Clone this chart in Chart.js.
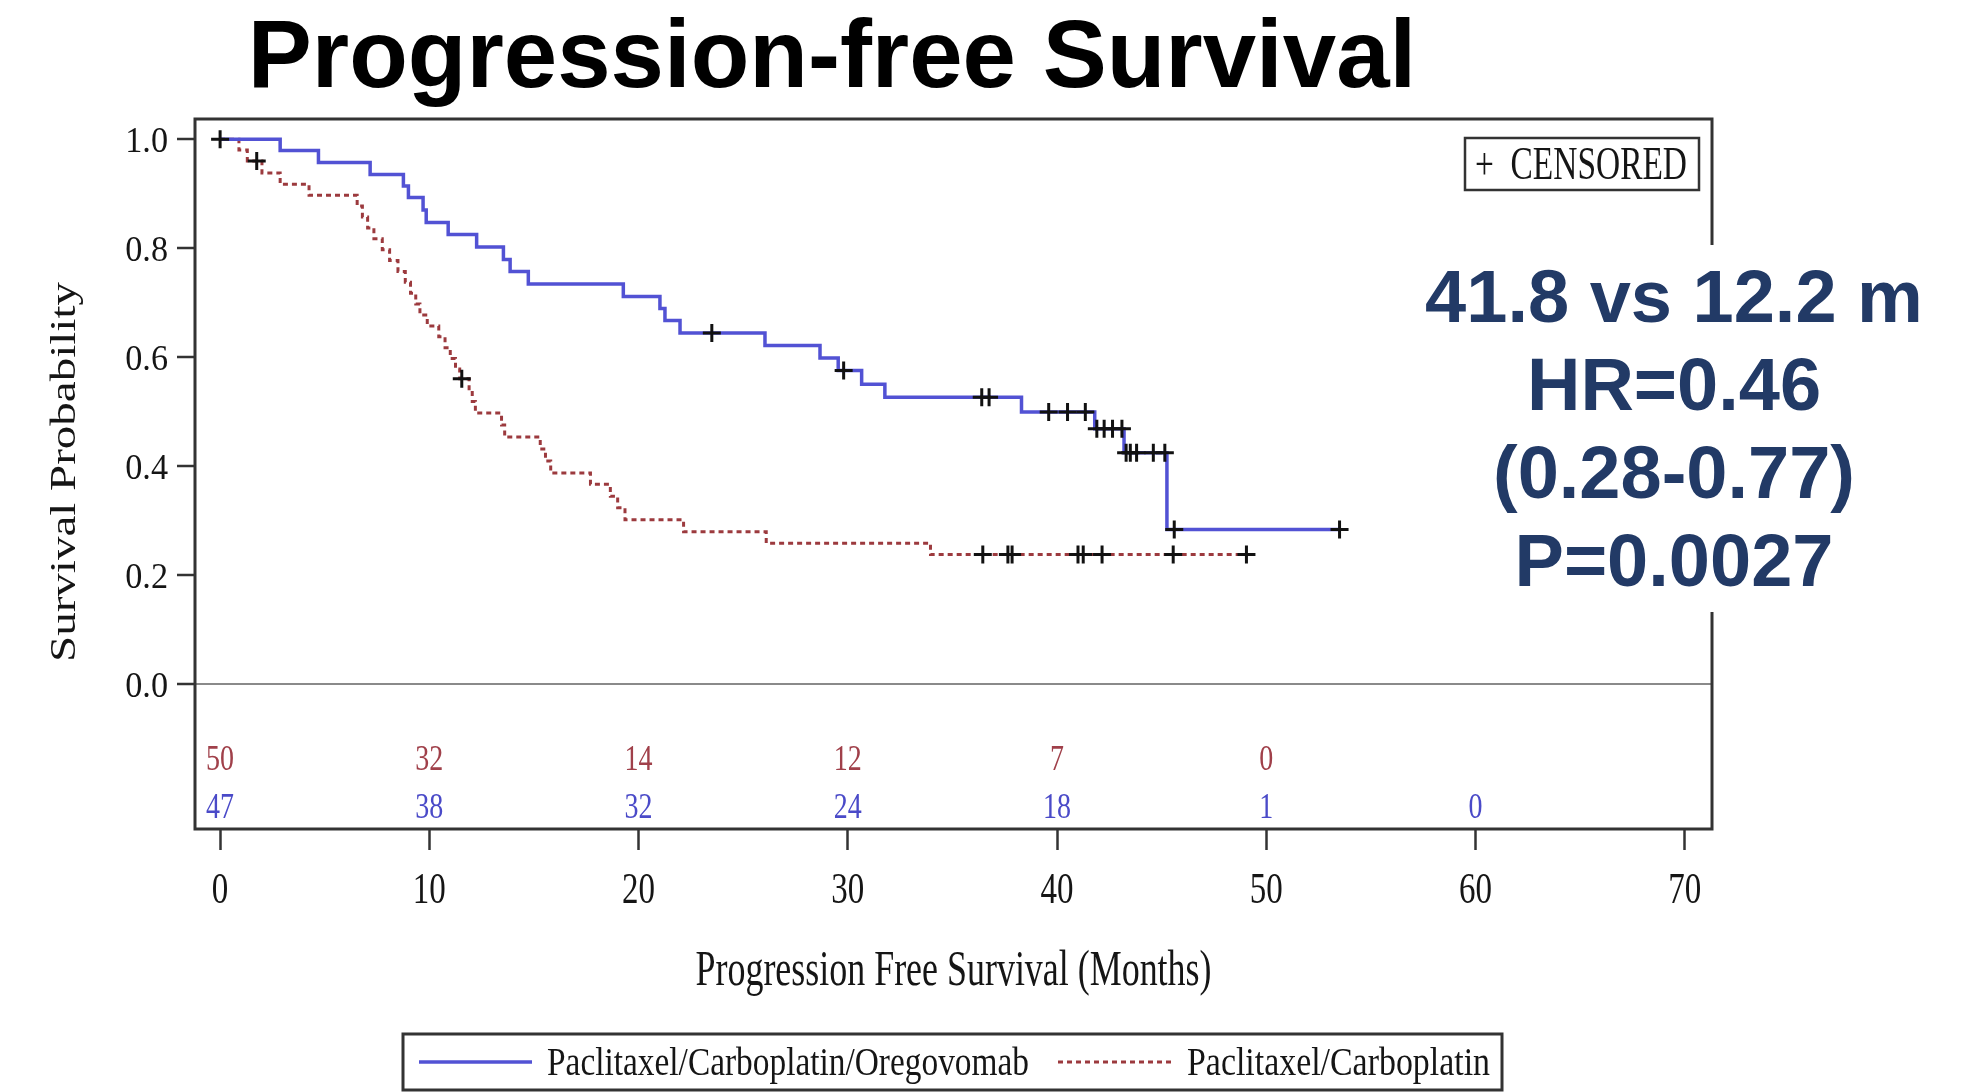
<!DOCTYPE html>
<html lang="en">
<head>
<meta charset="UTF-8">
<title>Progression-free Survival</title>
<script src="https://cdn.jsdelivr.net/npm/chart.js"></script>
<style>
  html, body { margin: 0; padding: 0; background: #fff; overflow: hidden; }
  #wrap { position: relative; width: 1963px; height: 1092px; }
  #km { position: absolute; left: 0; top: 0; }
  #title {
    position: absolute; left: 0; top: 4px; width: 1664px; text-align: center;
    font: bold 96px/100px "Liberation Sans", Arial, sans-serif; color: #000;
  }
  #stats {
    position: absolute; left: 1400px; top: 245px; width: 548px; height: 367px;
    padding-top: 8px; box-sizing: border-box; background: #fff; text-align: center;
    font: bold 74px/88px "Liberation Sans", Arial, sans-serif; color: #223a66;
  }
</style>
</head>
<body>
<div id="wrap">
  <canvas id="km" width="1963" height="1092"></canvas>
  <div id="title">Progression-free Survival</div>
  <div id="stats">41.8 vs 12.2 m<br>HR=0.46<br>(0.28-0.77)<br>P=0.0027</div>
</div>
<script>
// Kaplan-Meier steps (months, survival probability)
const oregoTimes = [0, 2.87, 4.7, 7.17, 8.76, 9.0, 9.7, 9.85, 10.9, 12.26, 13.54, 13.86, 14.73,
  19.27, 21.02, 21.26, 21.98, 26.04, 28.67, 29.54, 30.66, 31.77, 38.3, 41.8, 43.2, 45.25, 53.5];
const oregoSurv = [1.0, 0.979, 0.957, 0.935, 0.914, 0.893, 0.870, 0.847, 0.825, 0.802, 0.779, 0.757, 0.734,
  0.711, 0.689, 0.667, 0.644, 0.621, 0.598, 0.575, 0.550, 0.526, 0.499, 0.468, 0.424, 0.283, 0.283];
const oregoCensored = [0, 23.5, 29.8, 36.4, 36.75, 39.6, 40.5, 41.35, 41.9, 42.25, 42.65, 43.1,
  43.3, 43.5, 43.8, 44.6, 45.15, 45.6, 53.5];

const pcTimes = [0, 0.9, 1.3, 2.0, 2.87, 4.25, 6.55, 6.8, 7.05, 7.35, 7.75, 8.1, 8.5, 8.85, 9.1, 9.35,
  9.55, 9.9, 10.45, 10.75, 11.0, 11.25, 11.45, 11.9, 12.05, 12.2, 13.45, 13.6, 15.3, 15.55, 15.8,
  17.7, 18.65, 19.0, 19.35, 22.15, 26.1, 33.95, 49.05];
const pcSurv = [1.0, 0.98, 0.96, 0.938, 0.917, 0.897, 0.877, 0.857, 0.837, 0.817, 0.797, 0.777, 0.757, 0.737, 0.717, 0.697,
  0.677, 0.657, 0.637, 0.617, 0.597, 0.578, 0.56, 0.539, 0.518, 0.497, 0.475, 0.453, 0.431, 0.409, 0.387,
  0.366, 0.344, 0.323, 0.301, 0.279, 0.258, 0.237, 0.237];
const pcCensored = [1.75, 11.55, 36.45, 37.65, 37.85, 41.0, 41.25, 42.15, 45.55, 49.05];

// axes and number-at-risk table
const xTicks = [0, 10, 20, 30, 40, 50, 60, 70];
const yTicks = [0, 0.2, 0.4, 0.6, 0.8, 1.0];
const yTickLabels = ['0.0', '0.2', '0.4', '0.6', '0.8', '1.0'];
const riskTimes = [0, 10, 20, 30, 40, 50, 60];
const riskPC = [50, 32, 14, 12, 7, 0];
const riskOrego = [47, 38, 32, 24, 18, 1, 0];

const BLUE = '#5252d4';
const RED = '#9c3a3e';
const SERIF = '"Liberation Serif", "Times New Roman", serif';

// survival level at time t (to sit the censor marks on their curve)
function levelAt(times, surv, t) {
  let v = surv[0];
  for (let i = 0; i < times.length; i++) if (times[i] <= t) v = surv[i];
  return v;
}

function text(ctx, str, x, y, o) {
  ctx.save();
  ctx.font = (o.weight || 'normal') + ' ' + o.size + 'px ' + SERIF;
  ctx.fillStyle = o.color || '#151515';
  ctx.textBaseline = o.baseline || 'alphabetic';
  ctx.textAlign = o.align || 'left';
  const w = ctx.measureText(str).width;
  const sx = o.width ? o.width / w : (o.sx || 1);
  ctx.translate(x, y);
  if (o.rotate) ctx.rotate(o.rotate);
  ctx.scale(sx, o.sy || 1);
  ctx.fillText(str, 0, 0);
  ctx.restore();
}

const decor = {
  id: 'decor',
  afterDraw(chart) {
    const ctx = chart.ctx, a = chart.chartArea;
    const xs = chart.scales.x, ys = chart.scales.y;

    // frame
    ctx.save();
    ctx.strokeStyle = '#333';
    ctx.lineWidth = 3;
    ctx.strokeRect(a.left, a.top, a.right - a.left, a.bottom - a.top);
    ctx.restore();

    // tick labels
    yTicks.forEach((v, i) => text(ctx, yTickLabels[i], a.left - 27, ys.getPixelForValue(v) + 13,
      {size: 36, align: 'right', sx: 0.95}));
    xTicks.forEach(v => text(ctx, String(v), xs.getPixelForValue(v), 903,
      {size: 44, align: 'center', sx: 0.75}));

    // number at risk
    riskPC.forEach((n, i) => text(ctx, String(n), xs.getPixelForValue(riskTimes[i]), ys.getPixelForValue(-0.137) + 12,
      {size: 35, align: 'center', sx: 0.8, color: '#a0404a'}));
    riskOrego.forEach((n, i) => text(ctx, String(n), xs.getPixelForValue(riskTimes[i]), ys.getPixelForValue(-0.225) + 12,
      {size: 35, align: 'center', sx: 0.8, color: '#4a4ac8'}));

    // axis titles
    text(ctx, 'Progression Free Survival (Months)', (a.left + a.right) / 2, 985,
      {size: 50, align: 'center', width: 516});
    text(ctx, 'Survival Probability', 66, 472,
      {size: 47, align: 'center', baseline: 'middle', rotate: -Math.PI / 2, sy: 0.74});

    // censored key
    ctx.save();
    ctx.strokeStyle = '#333';
    ctx.lineWidth = 2.5;
    ctx.strokeRect(1465, 138, 234, 52);
    ctx.restore();
    text(ctx, '+  CENSORED', 1475, 179, {size: 46, width: 212});

    // legend
    const ds = chart.data.datasets;
    ctx.save();
    ctx.strokeStyle = '#333';
    ctx.lineWidth = 3;
    ctx.strokeRect(403, 1034, 1099, 56);
    ctx.lineWidth = ds[0].borderWidth;
    ctx.strokeStyle = ds[0].borderColor;
    ctx.beginPath(); ctx.moveTo(419, 1062); ctx.lineTo(532, 1062); ctx.stroke();
    ctx.lineWidth = ds[1].borderWidth;
    ctx.strokeStyle = ds[1].borderColor;
    ctx.setLineDash(ds[1].borderDash);
    ctx.beginPath(); ctx.moveTo(1058, 1062); ctx.lineTo(1171, 1062); ctx.stroke();
    ctx.restore();
    text(ctx, ds[0].label, 547, 1075, {size: 40, width: 482});
    text(ctx, ds[1].label, 1187, 1075, {size: 40, width: 303});
  }
};

const toPoints = (times, surv) => times.map((t, i) => ({x: t, y: surv[i]}));
const toCensor = (list, times, surv) => list.map(t => ({x: t, y: levelAt(times, surv, t)}));

const censorStyle = {
  type: 'scatter', showLine: false, pointStyle: 'cross', pointRadius: 9,
  pointBorderColor: '#111', pointBorderWidth: 3, borderColor: '#111'
};

new Chart(document.getElementById('km'), {
  type: 'line',
  data: {
    datasets: [
      {label: 'Paclitaxel/Carboplatin/Oregovomab', data: toPoints(oregoTimes, oregoSurv),
        stepped: true, borderColor: BLUE, borderWidth: 3.5, pointRadius: 0, fill: false, order: 2},
      {label: 'Paclitaxel/Carboplatin', data: toPoints(pcTimes, pcSurv),
        stepped: true, borderColor: RED, borderWidth: 3, borderDash: [5, 4], pointRadius: 0, fill: false, order: 3},
      Object.assign({label: 'censored orego', data: toCensor(oregoCensored, oregoTimes, oregoSurv), order: 1}, censorStyle),
      Object.assign({label: 'censored pc', data: toCensor(pcCensored, pcTimes, pcSurv), order: 1}, censorStyle)
    ]
  },
  options: {
    responsive: false,
    animation: false,
    layout: {padding: {left: 195, top: 119, right: 251, bottom: 263}},
    plugins: {legend: {display: false}, tooltip: {enabled: false}},
    scales: {
      x: {
        type: 'linear', min: -1.2, max: 71.3,
        afterBuildTicks: s => { s.ticks = xTicks.map(v => ({value: v})); },
        afterFit: s => { s.height = 0; },
        ticks: {display: false, autoSkip: false},
        border: {display: false},
        grid: {drawOnChartArea: false, drawTicks: true, tickLength: 21, tickWidth: 2.5, tickColor: '#333'}
      },
      y: {
        type: 'linear', min: -0.267, max: 1.037,
        afterBuildTicks: s => { s.ticks = yTicks.map(v => ({value: v})); },
        afterFit: s => { s.width = 0; },
        ticks: {display: false, autoSkip: false},
        border: {display: false},
        grid: {
          drawTicks: true, tickLength: 18, tickWidth: 2.5, tickColor: '#333', lineWidth: 2,
          color: c => (c.tick && c.tick.value === 0 ? '#8a8a8a' : 'rgba(0,0,0,0)')
        }
      }
    }
  },
  plugins: [decor]
});
</script>
</body>
</html>
